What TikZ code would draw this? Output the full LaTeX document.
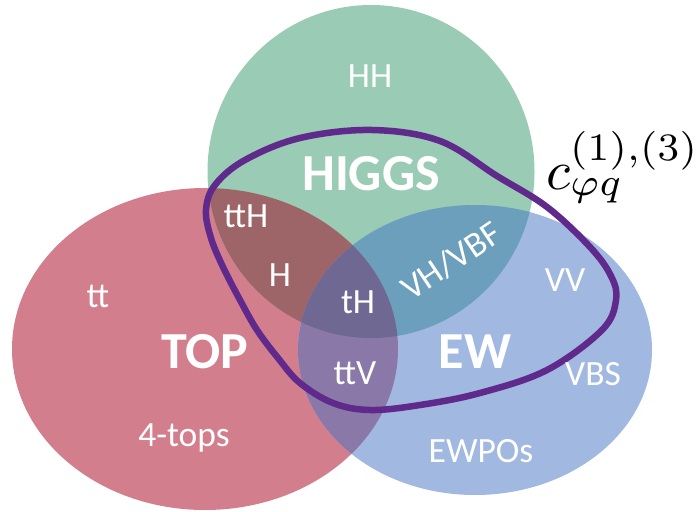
\documentclass[tikz,border=0pt]{standalone}
\usepackage{fontspec}
\newfontfamily\labfont{Carlito}
\definecolor{cgreen}{RGB}{154,203,180}
\definecolor{cred}{RGB}{211,126,140}
\definecolor{cblue}{RGB}{161,184,224}
\definecolor{crg}{RGB}{157,101,103}
\definecolor{cgb}{RGB}{107,159,188}
\definecolor{crb}{RGB}{138,120,168}
\definecolor{crgb}{RGB}{111,104,146}
\definecolor{cloop}{RGB}{95,42,139}
\begin{document}
\begin{tikzpicture}[x=1pt,y=-1pt,
  lab/.style={text=white,font=\labfont\fontsize{35.5}{40}\selectfont,inner sep=0pt,anchor=base},
  big/.style={text=white,font=\labfont\bfseries\fontsize{52}{60}\selectfont,inner sep=0pt,anchor=base},
  loopline/.style={draw=cloop,line width=6.5pt}]
\useasboundingbox (0,0) rectangle (700,511);
\def\redpath{(205,349) ellipse [x radius=193pt, y radius=161pt]}
\def\greenpath{(371,171.5) ellipse [x radius=163.5pt, y radius=166.5pt]}
\def\bluepath{(475,350) ellipse [x radius=177pt, y radius=145pt]}
% base sets
\fill[cred] \redpath;
\fill[cgreen] \greenpath;
\fill[cblue] \bluepath;
% pairwise overlaps
\begin{scope}\clip \redpath; \fill[crg] \greenpath; \end{scope}
\begin{scope}\clip \greenpath; \fill[cgb] \bluepath; \end{scope}
\begin{scope}\clip \redpath; \fill[crb] \bluepath; \end{scope}
% triple overlap
\begin{scope}\clip \redpath; \clip \greenpath; \fill[crgb] \bluepath; \end{scope}
% purple loop
\draw[loopline] plot[smooth cycle, tension=0.6] coordinates {
 (372,130) (440,141) (497,176) (547,207) (590,247) (611,276) (616,300)
 (602,330) (547,370) (480,393) (420,405) (370,410) (333,403) (300,383)
 (278,358) (257,330) (240,300) (223,267) (211,238) (206,210) (215,185)
 (245,160) (300,138)};
% labels
\node[lab] (hh) at (370,87) {HH};
\node[big] (higgs) at (371,190) {HIGGS};
\node[lab] (tth) at (246,227) {ttH};
\node[lab] (h) at (280,286) {H};
\node[lab] (th) at (358,313) {tH};
\node[lab] (ttv) at (355,384) {ttV};
\node[lab] (tt) at (98,307) {tt};
\node[big] (top) at (205,368) {TOP};
\node[big] (ew) at (475,368) {EW};
\node[lab] (fourtops) at (184,446) {4-tops};
\node[lab] (ewpo) at (481,462) {EWPOs};
\node[lab] (vv) at (565,291) {VV};
\node[lab] (vbs) at (593,385) {VBS};
\node[lab,anchor=center,rotate=34] (vhvbf) at (451,261) {VH/VBF};
\node[anchor=base west,inner sep=0pt,scale=5.55] (coef) at (545,189) {$c^{(1),(3)}_{\varphi q}$};
\end{tikzpicture}
\end{document}
